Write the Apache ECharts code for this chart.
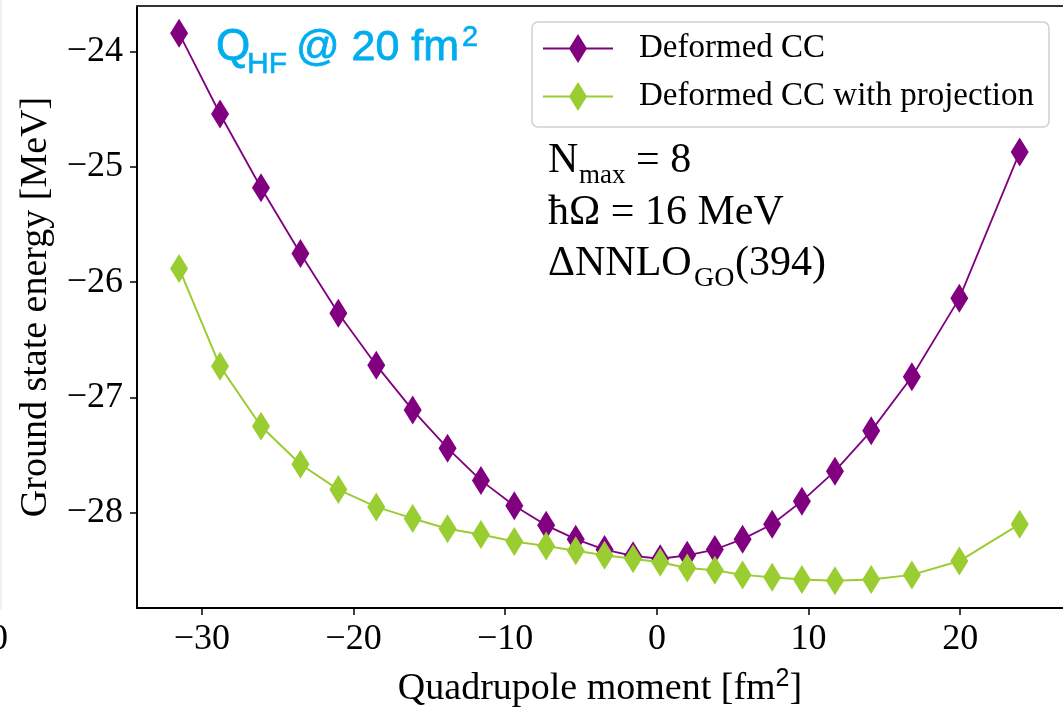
<!DOCTYPE html>
<html><head><meta charset="utf-8">
<script src="https://cdn.jsdelivr.net/npm/echarts@6/dist/echarts.min.js"></script>
<style>html,body{margin:0;padding:0;background:#fff}#c{width:1063px;height:713px}</style>
</head><body><div id="c"></div>
<script>
// ---- data ----
const quadMoment = [-31.5, -28.8, -26.1, -23.5, -21.0, -18.5, -16.1, -13.8, -11.6, -9.4, -7.3, -5.35, -3.45, -1.57, 0.22, 2.0, 3.82, 5.65, 7.6, 9.56, 11.74, 14.13, 16.81, 19.94, 23.92];
const deformedCC = [-23.84, -24.54, -25.18, -25.75, -26.27, -26.72, -27.11, -27.44, -27.72, -27.94, -28.11, -28.23, -28.32, -28.375, -28.40, -28.37, -28.32, -28.23, -28.10, -27.90, -27.64, -27.29, -26.82, -26.14, -24.87];
const deformedCCProj = [-25.88, -26.73, -27.25, -27.58, -27.80, -27.95, -28.05, -28.14, -28.19, -28.25, -28.29, -28.33, -28.37, -28.40, -28.43, -28.48, -28.50, -28.54, -28.56, -28.58, -28.59, -28.58, -28.54, -28.42, -28.10];
const xTicks = [-30, -20, -10, 0, 10, 20];
const yTicks = [-28, -27, -26, -25, -24];
const seriesNames = ['Deformed CC', 'Deformed CC with projection'];

const SERIF = 'Liberation Serif, Times New Roman, serif';
const SANS = 'Liberation Sans, Arial, sans-serif';
const fmt = v => v < 0 ? '\u2212' + Math.abs(v) : String(v);

function T(x, baseline, text, fs, family, color, strokeW) {
  const st = { text: text, fontSize: fs, fontFamily: family, fill: color || '#000', verticalAlign: 'middle', align: 'left' };
  if (strokeW) { st.stroke = color; st.lineWidth = strokeW; }
  return { type: 'text', x: x, y: baseline - 0.34 * fs, z: 100, style: st };
}
const CYAN = '#00AEEF';
const legendIcon = 'path://M0,13.6H70V15.4H0Z M35,0L44,14.5L35,29L26,14.5Z';

const chart = echarts.init(document.getElementById('c'), null, { renderer: 'canvas' });
chart.setOption({
  animation: false,
  backgroundColor: '#fff',
  grid: { left: 137, top: 6, right: -6, bottom: 103, containLabel: false },
  legend: {
    left: 532, top: 22, orient: 'vertical', selectedMode: false,
    itemWidth: 70, itemHeight: 29, itemGap: 15,
    padding: [10, 15, 14, 11],
    backgroundColor: 'rgba(255,255,255,0.85)', borderColor: '#cfcfcf', borderWidth: 1.5, borderRadius: 6,
    textStyle: { fontFamily: SERIF, fontSize: 33, color: '#000', padding: [0, 0, 0, 21] },
    data: [
      { name: seriesNames[0], icon: legendIcon },
      { name: seriesNames[1], icon: legendIcon }
    ]
  },
  xAxis: [{
    type: 'value', min: -34.275, max: 26.775, position: 'bottom',
    name: '{t|Quadrupole moment [fm}{s|2}{t|]}', nameLocation: 'middle', nameGap: 59,
    nameTextStyle: { rich: {
      t: { fontFamily: SERIF, fontSize: 38, color: '#000', lineHeight: 44 },
      s: { fontFamily: SANS, fontSize: 25, color: '#000', verticalAlign: 'top', lineHeight: 26 } } },
    axisLine: { show: true, onZero: false, lineStyle: { color: '#000', width: 2 } },
    axisTick: { show: true, inside: false, length: 7, lineStyle: { color: '#000', width: 1.5 }, customValues: xTicks },
    axisLabel: { show: true, margin: 14, fontFamily: SERIF, fontSize: 36, color: '#000', formatter: fmt, customValues: xTicks },
    splitLine: { show: false }
  }, {
    type: 'value', min: -34.275, max: 26.775, position: 'top',
    axisLine: { show: true, onZero: false, lineStyle: { color: '#333', width: 2 } },
    axisTick: { show: false }, axisLabel: { show: false }, splitLine: { show: false }
  }],
  yAxis: {
    type: 'value', min: -28.8275, max: -23.6025,
    name: 'Ground state energy [MeV]', nameLocation: 'middle', nameGap: 82, nameRotate: 90,
    nameTextStyle: { fontFamily: SERIF, fontSize: 38, color: '#000' },
    axisLine: { show: true, onZero: false, lineStyle: { color: '#000', width: 2 } },
    axisTick: { show: true, inside: false, length: 7, lineStyle: { color: '#000', width: 1.5 }, customValues: yTicks },
    axisLabel: { show: true, margin: 14, fontFamily: SERIF, fontSize: 36, color: '#000', formatter: fmt, customValues: yTicks },
    splitLine: { show: false }
  },
  series: [{
    name: seriesNames[0], type: 'line', xAxisIndex: 0,
    data: quadMoment.map((x, i) => [x, deformedCC[i]]),
    symbol: 'diamond', symbolSize: [18, 29], showAllSymbol: true,
    itemStyle: { color: '#800080' }, lineStyle: { color: '#800080', width: 1.8 }, z: 2
  }, {
    name: seriesNames[1], type: 'line', xAxisIndex: 0,
    data: quadMoment.map((x, i) => [x, deformedCCProj[i]]),
    symbol: 'diamond', symbolSize: [18, 29], showAllSymbol: true,
    itemStyle: { color: '#9ACD32' }, lineStyle: { color: '#9ACD32', width: 2 }, z: 3
  }],
  graphic: [
    // Q_HF @ 20 fm^2
    T(216, 63, 'Q', 44, SANS, CYAN, 0.8),
    T(247, 75, 'HF', 30, SANS, CYAN, 0.6),
    T(296, 63, '@ 20 fm', 43, SANS, CYAN, 0.8),
    T(462, 48, '2', 29, SANS, CYAN, 0.6),
    // parameters
    T(548, 175, 'N', 42, SERIF),
    T(579, 185, 'max', 27, SERIF),
    T(636, 175, '= 8', 42, SERIF),
    T(548, 227, '\u0127\u03A9 = 16 MeV', 42, SERIF),
    T(548, 278, '\u0394NNLO', 42, SERIF),
    T(694, 288, 'GO', 28, SERIF),
    T(735, 278, '(394)', 42, SERIF),
    // fragments of the neighbouring panel at the left edge
    { type: 'line', shape: { x1: 1, y1: 0, x2: 1, y2: 610 }, style: { stroke: '#e2e2e2', lineWidth: 1 } },
    T(-10, 652, '0', 36, SERIF)
  ]
});
</script>
</body></html>
